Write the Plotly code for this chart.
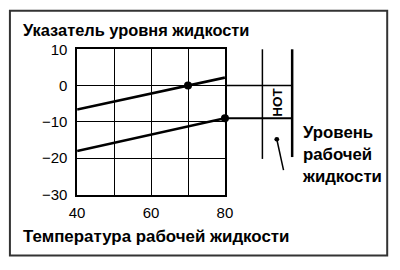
import plotly.graph_objects as go

# Data
temp_upper = [40, 70, 80]
level_upper = [-6.6, 0, 2.2]
temp_lower = [40, 80]
level_lower = [-18, -9]
marker_x = [70, 80]
marker_y = [0, -9]
x_ticks = [40, 50, 60, 70, 80]
x_tick_text = ["40", "", "60", "", "80"]
y_ticks = [-30, -20, -10, 0, 10]
hot_band = [0, -9]

W, H = 400, 270
def px(x):
    return x / W
def py(y):
    return 1 - y / H

FONT = "Liberation Sans, Arial, sans-serif"

fig = go.Figure()
fig.add_trace(go.Scatter(x=temp_upper, y=level_upper, mode="lines",
                         line=dict(color="black", width=2.6), hoverinfo="skip"))
fig.add_trace(go.Scatter(x=temp_lower, y=level_lower, mode="lines",
                         line=dict(color="black", width=2.6), hoverinfo="skip"))
fig.add_trace(go.Scatter(x=marker_x, y=marker_y, mode="markers", cliponaxis=False,
                         marker=dict(color="black", size=8), hoverinfo="skip"))

shapes = []
# outer frame
shapes.append(dict(type="rect", xref="paper", yref="paper",
                   x0=px(2), x1=px(395), y0=py(263), y1=py(2),
                   line=dict(color="#333", width=2)))
# gauge horizontal lines at data levels
for lv, wd in zip(hot_band, [1.5, 2]):
    shapes.append(dict(type="line", xref="paper", yref="y",
                       x0=px(226), x1=px(296), y0=lv, y1=lv,
                       line=dict(color="black", width=wd)))
# gauge vertical lines
shapes.append(dict(type="line", xref="paper", yref="paper",
                   x0=px(265), x1=px(265), y0=py(43), y1=py(160),
                   line=dict(color="black", width=1.5)))
shapes.append(dict(type="line", xref="paper", yref="paper",
                   x0=px(296), x1=px(296), y0=py(43), y1=py(158),
                   line=dict(color="black", width=2.5)))
# pointer
shapes.append(dict(type="line", xref="paper", yref="paper",
                   x0=px(280), x1=px(287), y0=py(139), y1=py(172),
                   line=dict(color="black", width=1.5)))
shapes.append(dict(type="circle", xref="paper", yref="paper",
                   x0=px(277.5), x1=px(282.5), y0=py(136.5), y1=py(141.5),
                   fillcolor="black", line=dict(color="black", width=0)))

annotations = [
    dict(text="<b>Указатель уровня жидкости</b>", xref="paper", yref="paper",
         x=px(14), y=py(22), xanchor="left", yanchor="middle", showarrow=False,
         font=dict(family=FONT, size=16.4, color="black")),
    dict(text="<b>Температура рабочей жидкости</b>", xref="paper", yref="paper",
         x=px(14), y=py(243), xanchor="left", yanchor="middle", showarrow=False,
         font=dict(family=FONT, size=16.9, color="black")),
    dict(text="<b>Уровень<br>рабочей<br>жидкости</b>", xref="paper", yref="paper",
         x=px(304), y=py(155), xanchor="left", yanchor="middle", align="left",
         showarrow=False, font=dict(family=FONT, size=16.8, color="black")),
    dict(text="<b>HOT</b>", xref="paper", yref="y", x=px(281), y=-4.5,
         textangle=-90, xanchor="center", yanchor="middle", showarrow=False,
         font=dict(family=FONT, size=13.5, color="black")),
]

fig.update_layout(
    width=W, height=H, margin=dict(l=0, r=0, t=0, b=0),
    paper_bgcolor="white", plot_bgcolor="white", showlegend=False,
    shapes=shapes, annotations=annotations,
    xaxis=dict(domain=[px(72), px(226)], range=[40, 80], tickvals=x_ticks,
               ticktext=x_tick_text, showgrid=True, gridcolor="black", gridwidth=1,
               showline=True, mirror=True, linecolor="black", linewidth=1.5,
               ticks="outside", ticklen=4, tickcolor="rgba(0,0,0,0)", zeroline=False,
               tickfont=dict(family=FONT, size=15, color="black")),
    yaxis=dict(domain=[py(198), py(43)], range=[-30, 10], tickvals=y_ticks,
               showgrid=True, gridcolor="black", gridwidth=1,
               showline=True, mirror=True, linecolor="black", linewidth=1.5,
               ticks="outside", ticklen=5, tickcolor="rgba(0,0,0,0)", zeroline=False,
               tickfont=dict(family=FONT, size=15, color="black")),
)

fig.write_html("out.html")
